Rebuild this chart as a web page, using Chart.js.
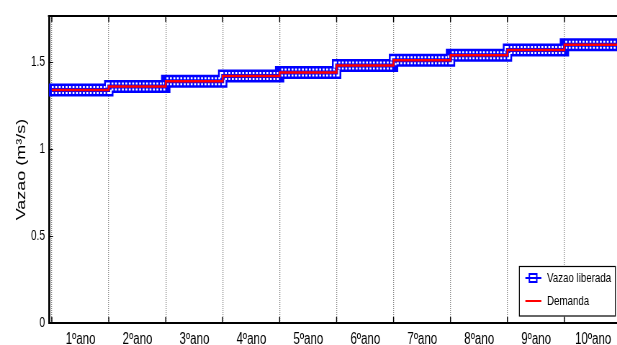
<!DOCTYPE html>
<html>
<head>
<meta charset="utf-8">
<script src="https://cdn.jsdelivr.net/npm/chart.js@4.4.1/dist/chart.umd.min.js"></script>
<style>
  html, body { margin: 0; padding: 0; background: #fff; overflow: hidden; }
  /* the figure is squeezed sideways, like the original export */
  #wrap { width: 870px; height: 345px; transform: scaleX(0.72); transform-origin: 0 0; }
</style>
</head>
<body>
<div id="wrap"><canvas id="chart" width="870" height="345"></canvas></div>
<script>
// categories and series
const anos = ['1ºano', '2ºano', '3ºano', '4ºano', '5ºano', '6ºano', '7ºano', '8ºano', '9ºano', '10ºano'];
const vazaoLiberada = [1.34, 1.36, 1.39, 1.42, 1.44, 1.48, 1.51, 1.54, 1.57, 1.60];
const demanda = [1.34, 1.36, 1.39, 1.42, 1.44, 1.48, 1.51, 1.54, 1.57, 1.60];
const yTicks = [0, 0.5, 1, 1.5];

const K = 0.72; // horizontal squeeze of #wrap
const sans = "'Liberation Sans', Arial, sans-serif";

// each year's value holds from the start of the year to the start of the next
function stepPoints(vals) {
    const pts = vals.map((v, i) => ({ x: i, y: v }));
    pts.push({ x: vals.length, y: vals[vals.length - 1] });
    return pts;
}

// matlab style box: top line, inward ticks, legend in the lower right corner
const matlabFrame = {
    id: 'matlabFrame',
    afterDraw(chart) {
        const { ctx, chartArea: a, scales: { x, y } } = chart;
        ctx.save();
        ctx.strokeStyle = '#000';
        ctx.lineWidth = 2;
        ctx.beginPath();
        ctx.moveTo(a.left - 1.4, a.top);
        ctx.lineTo(a.right, a.top);
        ctx.stroke();

        ctx.lineWidth = 1.4;
        ctx.beginPath();
        x.ticks.forEach(t => {
            const px = x.getPixelForValue(t.value);
            ctx.moveTo(px, a.bottom);
            ctx.lineTo(px, a.bottom - 6);
            ctx.moveTo(px, a.top);
            ctx.lineTo(px, a.top + 6);
        });
        ctx.stroke();
        ctx.lineWidth = 1;
        ctx.beginPath();
        y.ticks.forEach(t => {
            const py = Math.round(y.getPixelForValue(t.value)) + 0.5;
            ctx.moveTo(a.left, py);
            ctx.lineTo(a.left + 4 / K, py);
        });
        ctx.stroke();

        // legend
        const bx = a.right - 102 / K, by = a.bottom - 57, bw = 96 / K, bh = 49.5;
        ctx.fillStyle = '#fff';
        ctx.fillRect(bx, by, bw, bh);
        ctx.strokeStyle = '#000';
        ctx.lineWidth = 1.2;
        ctx.strokeRect(bx, by + 0.5, bw, bh);

        const items = chart.data.datasets.filter(d => d.label);
        items.sort((p, q) => p.legendRank - q.legendRank);
        ctx.font = '13.5px ' + sans;
        ctx.textBaseline = 'middle';
        items.forEach((d, i) => {
            const ly = by + 12 + i * 23;
            ctx.strokeStyle = d.borderColor;
            ctx.lineWidth = 2;
            ctx.beginPath();
            ctx.moveTo(bx + 6 / K, ly);
            ctx.lineTo(bx + 22 / K, ly);
            ctx.stroke();
            if (d.legendMarker) {
                ctx.fillStyle = '#fff';
                ctx.lineWidth = 2;
                ctx.fillRect(bx + 10 / K, ly - 4, 7.4 / K, 8);
                ctx.strokeRect(bx + 10 / K, ly - 4, 7.4 / K, 8);
                ctx.beginPath();
                ctx.moveTo(bx + 10 / K, ly);
                ctx.lineTo(bx + 17.4 / K, ly);
                ctx.stroke();
            }
            ctx.fillStyle = '#000';
            ctx.fillText(d.label, bx + 27.7 / K, ly);
        });
        ctx.restore();
    }
};

const ctx = document.getElementById('chart').getContext('2d');
new Chart(ctx, {
    type: 'line',
    data: {
        datasets: [
            {
                label: 'Demanda',
                legendRank: 2,
                data: stepPoints(demanda),
                borderColor: '#ff0000',
                borderWidth: 2.5,
                stepped: true,
                pointRadius: 0,
                clip: 0,
            },
            {
                // centre stroke of the marker band
                data: stepPoints(vazaoLiberada),
                borderColor: '#0000ff',
                borderWidth: 4,
                stepped: true,
                pointRadius: 0,
                clip: 0,
            },
            {
                // white holes of the densely packed square markers
                data: stepPoints(vazaoLiberada),
                borderColor: '#ffffff',
                borderWidth: 8,
                borderDash: [2.6, 2.2],
                stepped: true,
                pointRadius: 0,
                clip: 0,
            },
            {
                label: 'Vazao liberada',
                legendRank: 1,
                legendMarker: true,
                data: stepPoints(vazaoLiberada),
                borderColor: '#0000ff',
                borderWidth: 13,
                borderCapStyle: 'square',
                stepped: true,
                pointRadius: 0,
                clip: 0,
            },
        ],
    },
    options: {
        responsive: false,
        animation: false,
        layout: { padding: { top: 16, right: 0.6, left: 0, bottom: 0 } },
        plugins: {
            legend: { display: false },
            tooltip: { enabled: false },
        },
        scales: {
            x: {
                type: 'linear',
                min: -0.05,
                max: 10,
                afterBuildTicks: (s) => {
                    s.ticks = anos.map((_, i) => ({ value: i })).concat([{ value: anos.length }]);
                },
                afterFit: (s) => { s.height = 22; },
                grid: { color: '#8c8c8c', lineWidth: 1.3, drawTicks: false },
                border: { color: '#000', width: 2, dash: [1, 1] },
                ticks: {
                    color: '#000',
                    padding: 7,
                    labelOffset: 39.9,
                    maxRotation: 0,
                    autoSkip: false,
                    font: { family: sans, size: 16 },
                    callback: (v) => anos[v] ?? '',
                },
            },
            y: {
                min: 0,
                max: 1.765,
                afterBuildTicks: (s) => {
                    s.ticks = yTicks.map(v => ({ value: v }));
                },
                afterFit: (s) => { s.width = 68; },
                grid: { display: false, drawTicks: false },
                border: { color: '#000', width: 2.8 },
                ticks: {
                    color: '#000',
                    padding: 5.5,
                    font: { family: sans, size: 14 },
                    callback: (v) => String(v),
                },
                title: {
                    display: true,
                    text: 'Vazao (m³/s)',
                    color: '#000',
                    font: { family: sans, size: 18 },
                    padding: { top: 19, bottom: 0 },
                },
            },
        },
    },
    plugins: [matlabFrame],
});
</script>
</body>
</html>
